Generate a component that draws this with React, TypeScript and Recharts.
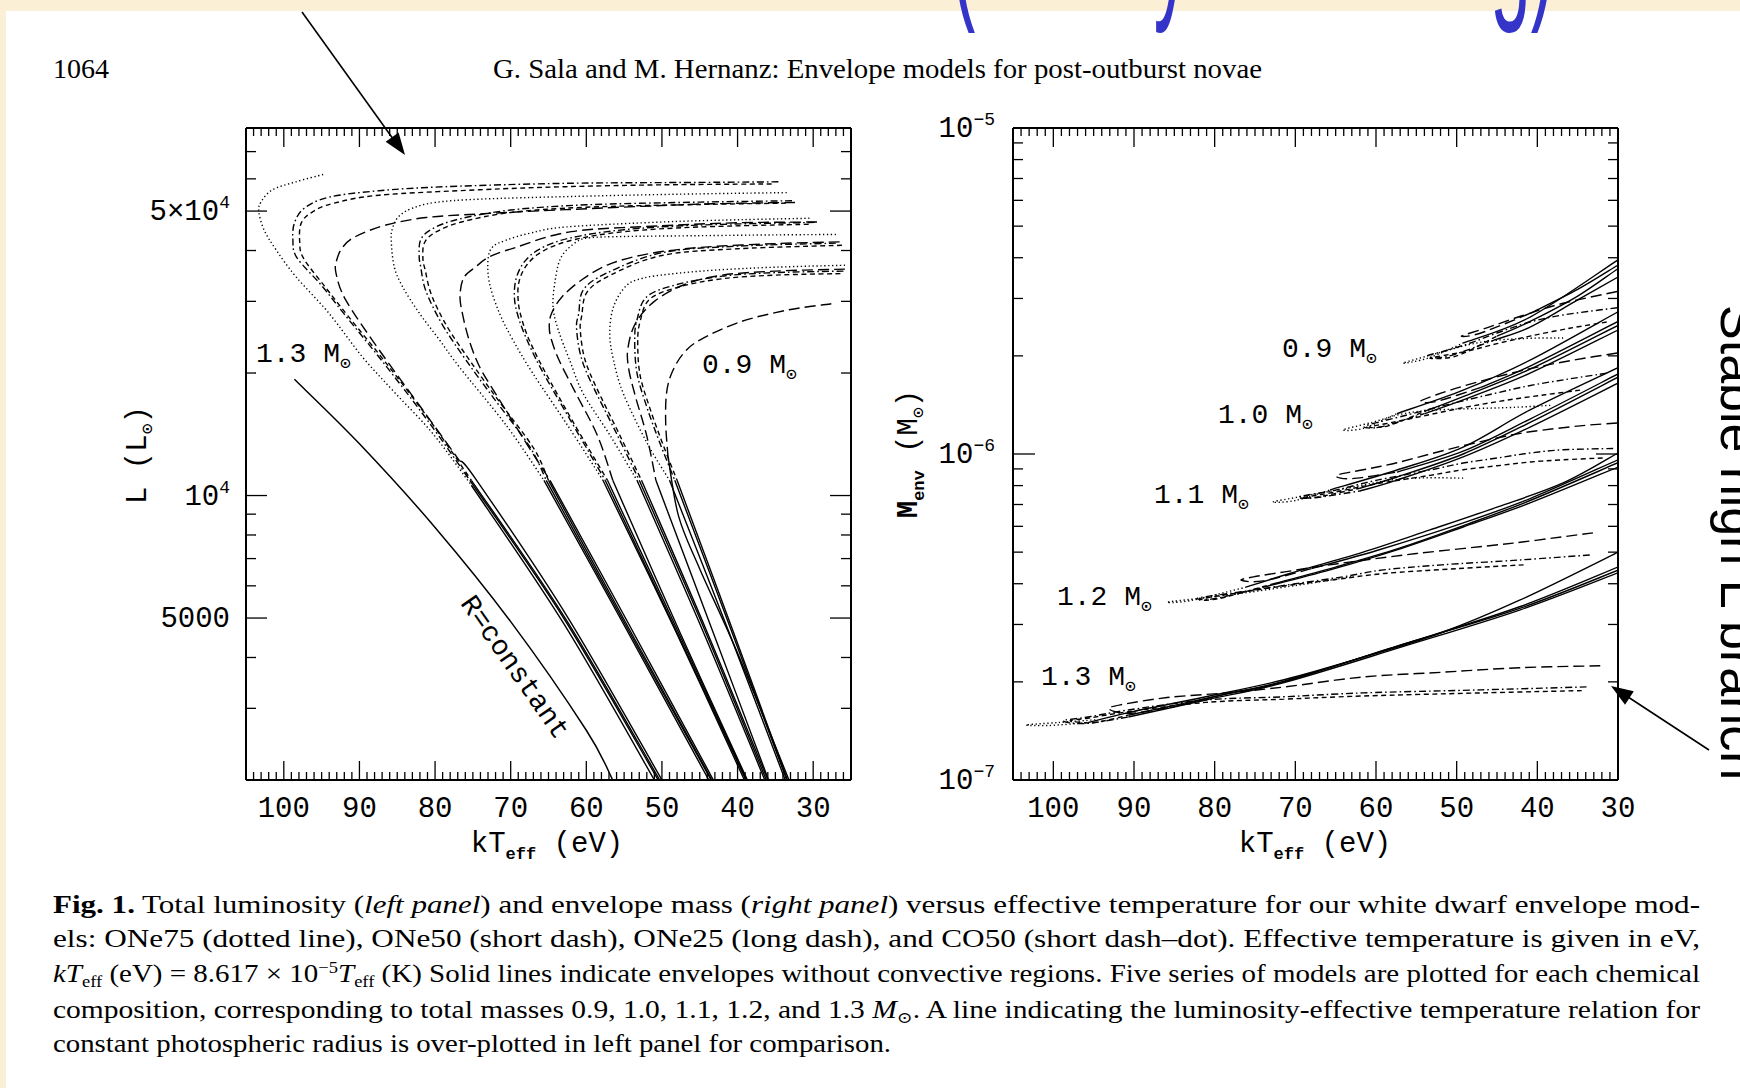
import React from 'react';
import { LineChart, Line, XAxis, YAxis, ReferenceLine } from 'recharts';

type Pt = [number, number];
type Comp = 'ONe75' | 'ONe50' | 'ONe25' | 'CO50';

// ---------- axis ticks ----------
const T_LABELS = [100, 90, 80, 70, 60, 50, 40, 30];
const T_TICKS_LUM = Array.from({ length: 81 }, (_, i) => 25 + i);
const T_TICKS_MENV = Array.from({ length: 76 }, (_, i) => 30 + i);
const LUM_TICKS = [3000, 4000, 5000, 6000, 7000, 8000, 9000, 10000, 20000, 30000, 40000, 50000, 60000, 70000];
const LUM_LABELED = [5000, 10000, 50000];
const MENV_TICKS = [1e-7, 2e-7, 3e-7, 4e-7, 5e-7, 6e-7, 7e-7, 8e-7, 9e-7, 1e-6, 2e-6, 3e-6, 4e-6, 5e-6, 6e-6, 7e-6, 8e-6, 9e-6, 1e-5];
const MENV_LABELED = [1e-7, 1e-6, 1e-5];

// ---------- left panel: luminosity (L_sun) vs kT_eff (eV) ----------
const lum13_ONe75: Pt[] = [[94.8, 61500], [98.4, 59000], [101.5, 56400], [103.0, 52700], [103.3, 49800], [102.6, 44900], [101.0, 40100], [98.4, 34500], [94.0, 28000], [89.6, 21900], [85.2, 17800], [80.3, 14200], [75.2, 10600], [63.0, 4850], [51.0, 2000]];
const lum13_CO50: Pt[] = [[34.6, 59000], [45, 58800], [62.7, 58500], [78.6, 57400], [87.4, 56100], [94.0, 54100], [97.3, 50800], [98.6, 46700], [98.8, 42500], [98.3, 38500], [95.0, 32800], [92.0, 27900], [87.0, 21400], [81.0, 15300], [75.4, 10900], [63.0, 5000], [50.5, 2000]];
const lum13_ONe50: Pt[] = [[35.5, 58300], [50, 58000], [62.7, 57400], [74.1, 56400], [87.4, 54700], [93.5, 52200], [96.2, 49800], [97.7, 46700], [97.9, 42000], [97.4, 38300], [94.5, 32500], [91.5, 27600], [86.6, 21300], [80.7, 15300], [75.2, 10900], [62.8, 5000], [50.3, 2000]];
const lum13_ONe25: Pt[] = [[32.4, 52500], [45, 52000], [62.7, 50400], [74.1, 49200], [81.2, 48200], [86.5, 46200], [90.5, 43300], [92.2, 40800], [93.0, 37900], [93.1, 35200], [91.8, 30200], [87.4, 22800], [81.6, 16200], [76.8, 12200], [74.5, 10900], [62.4, 5000], [50.0, 2000]];

const lum12_ONe75: Pt[] = [[33.5, 55500], [48, 55000], [62, 54300], [74, 53500], [80, 52500], [83, 50800], [84.8, 48500], [85.6, 45500], [85.8, 42500], [85.4, 36500], [84.3, 32600], [82.1, 28100], [79.4, 24100], [76.8, 20700], [70.5, 14800], [65.6, 10900], [55.0, 4800], [43.8, 2000]];
const lum12_CO50: Pt[] = [[32.8, 53000], [45, 52600], [60, 51800], [70, 50300], [76.8, 47800], [80.3, 45300], [81.9, 42500], [82.1, 38600], [81.9, 36500], [81.4, 32600], [80.3, 29100], [78.6, 25500], [75.9, 21500], [72.4, 17500], [67.5, 13200], [65.3, 10900], [54.8, 4800], [43.5, 2000]];
const lum12_ONe50: Pt[] = [[33.6, 52300], [45, 51900], [60, 51100], [70, 49600], [76.5, 47000], [79.8, 44500], [81.4, 41800], [81.6, 38000], [81.3, 35800], [80.7, 32000], [79.6, 28600], [77.9, 25100], [75.2, 21200], [71.8, 17300], [67.0, 13100], [65.0, 10900], [54.6, 4800], [43.4, 2000]];
const lum12_ONe25: Pt[] = [[29.5, 47000], [40, 46800], [50, 46000], [62, 44500], [69.7, 40500], [72.8, 38600], [74.6, 36500], [76.2, 34300], [76.7, 31000], [76.4, 28100], [75.5, 24100], [74.1, 20700], [72.0, 17800], [68.0, 13500], [64.8, 10900], [54.3, 4800], [43.2, 2000]];

const lum11_ONe75: Pt[] = [[30.5, 48000], [40, 47600], [50, 47000], [62.7, 45700], [67.5, 44100], [70.6, 42400], [72.4, 40800], [73.0, 37900], [72.8, 33200], [71.5, 28100], [69.7, 24100], [67.1, 20000], [62.5, 14900], [57.8, 10900], [48.2, 4650], [39.1, 2000]];
const lum11_CO50: Pt[] = [[29.8, 46900], [45, 46200], [55, 45000], [62, 43000], [66, 40500], [68.2, 37500], [69.3, 34000], [69.5, 30500], [69.0, 27500], [68.0, 24500], [66.0, 20500], [62.0, 15200], [57.5, 10900], [48.0, 4600], [38.9, 2000]];
const lum11_ONe50: Pt[] = [[30.6, 46400], [45, 45700], [55, 44500], [61.7, 42500], [65.6, 40000], [67.8, 37000], [68.9, 33500], [69.0, 30000], [68.5, 27000], [67.5, 24000], [65.5, 20200], [61.6, 15000], [57.2, 10900], [47.8, 4600], [38.8, 2000]];
const lum11_ONe25: Pt[] = [[26.5, 42000], [35, 41600], [45, 40700], [52, 39200], [57, 37000], [60.5, 34000], [63.2, 30800], [64.6, 28000], [64.9, 26000], [64.6, 24100], [63.6, 21500], [61.5, 18000], [58.5, 14000], [56.5, 10900], [47.6, 4600], [38.7, 2000]];

const lum10_ONe75: Pt[] = [[27.0, 43800], [35, 43700], [45, 43500], [55, 43300], [59.5, 43000], [61.3, 42000], [63.3, 38600], [64.1, 33900], [64.4, 29100], [63.7, 25500], [62.2, 21500], [60.4, 17800], [56.8, 14000], [53.3, 10900], [44.7, 4700], [36.4, 2000]];
const lum10_CO50: Pt[] = [[27.0, 41700], [40, 41000], [50, 39500], [57.3, 35200], [60.4, 32000], [61.0, 28000], [61.3, 26000], [60.8, 22300], [59.5, 19200], [56.0, 14200], [53.0, 10900], [44.4, 4700], [36.2, 2000]];
const lum10_ONe50: Pt[] = [[26.2, 41200], [40, 40400], [50, 38900], [56.8, 34800], [59.9, 31600], [60.6, 27700], [60.8, 25600], [60.3, 22000], [59.0, 19000], [55.6, 14100], [52.7, 10900], [44.2, 4700], [36.0, 2000]];
const lum10_ONe25: Pt[] = [[25.8, 36000], [35, 35600], [42, 34800], [47, 33000], [51, 30000], [53.5, 26500], [54.5, 23000], [54.4, 20500], [53.5, 17500], [52.0, 14000], [50.8, 10900], [43.4, 4700], [35.9, 2000]];

const lum09_ONe75: Pt[] = [[25.8, 36800], [35, 36400], [43, 35800], [49, 35000], [52.5, 34200], [54.7, 32800], [56.4, 29100], [56.9, 25000], [56.4, 21500], [55.1, 17800], [52.0, 13500], [49.0, 10900], [41.3, 4700], [33.7, 2000]];
const lum09_CO50: Pt[] = [[26.0, 35600], [35, 35300], [42, 34600], [48, 33000], [52.0, 30800], [53.3, 27000], [53.6, 24100], [53.3, 20000], [52.0, 16500], [50.3, 13500], [48.3, 10900], [40.9, 4700], [33.5, 2000]];
const lum09_ONe50: Pt[] = [[26.4, 35100], [35, 34800], [42, 34100], [47.6, 32600], [51.6, 30400], [52.9, 26700], [53.2, 23800], [52.9, 19800], [51.6, 16400], [49.9, 13400], [48.0, 10900], [40.7, 4700], [33.4, 2000]];
const lum09_ONe25: Pt[] = [[27.6, 29600], [33.2, 28600], [39.7, 26700], [45.0, 24100], [47.2, 22300], [48.7, 20000], [49.4, 17800], [49.5, 15000], [49.2, 12500], [47.8, 8900], [45.0, 6600], [40.0, 4100], [33.2, 2000]];

// constant photospheric radius
const rConstant: Pt[] = [[98.6, 19300], [90, 13400], [80, 8350], [70, 4900], [60, 2650], [56.5, 2000]];

// ---------- right panel: envelope mass (M_sun) vs kT_eff (eV) ----------
const menv13_ONe75: Pt[] = [[94.8, 1.53e-7], [99.5, 1.50e-7], [103.4, 1.475e-7], [100.5, 1.47e-7], [95.7, 1.50e-7], [90.7, 1.61e-7], [81.1, 1.80e-7], [71.4, 2.03e-7], [61.6, 2.38e-7], [51.9, 2.83e-7], [42.2, 3.56e-7], [30.0, 5.0e-7], [28.5, 5.25e-7]];
const menv13_CO50: Pt[] = [[33.9, 1.93e-7], [47, 1.89e-7], [61.6, 1.85e-7], [71.4, 1.80e-7], [81.1, 1.76e-7], [90.7, 1.64e-7], [95.7, 1.56e-7], [98.8, 1.52e-7], [96.0, 1.49e-7], [90.7, 1.56e-7], [81.1, 1.76e-7], [71.4, 1.99e-7], [56.8, 2.56e-7], [42.2, 3.32e-7], [30.0, 4.32e-7], [28.5, 4.48e-7]];
const menv13_ONe50: Pt[] = [[34.5, 1.88e-7], [47, 1.85e-7], [61.6, 1.81e-7], [71.4, 1.77e-7], [81.1, 1.73e-7], [90.7, 1.62e-7], [95.5, 1.55e-7], [97.9, 1.52e-7], [95.0, 1.50e-7], [90.7, 1.58e-7], [81.1, 1.78e-7], [71.4, 2.01e-7], [56.8, 2.6e-7], [42.2, 3.4e-7], [30.0, 4.5e-7], [28.5, 4.65e-7]];
const menv13_ONe25: Pt[] = [[32.2, 2.24e-7], [42.2, 2.21e-7], [51.9, 2.14e-7], [61.6, 2.07e-7], [71.3, 1.93e-7], [78.6, 1.85e-7], [85.9, 1.79e-7], [91.7, 1.70e-7], [93.1, 1.65e-7], [90.5, 1.60e-7], [85.0, 1.68e-7], [78.0, 1.85e-7], [71.4, 2.0e-7], [56.8, 2.6e-7], [42.2, 3.36e-7], [30.0, 4.4e-7], [28.5, 4.55e-7]];

const menv12_ONe75: Pt[] = [[63.1, 4.2e-7], [70, 3.95e-7], [78, 3.7e-7], [85.7, 3.52e-7], [83, 3.55e-7], [76.2, 3.9e-7], [70.7, 4.3e-7], [61.6, 5.0e-7], [53.3, 5.85e-7], [45, 6.87e-7], [36.8, 8.15e-7], [30, 1.007e-6], [28.5, 1.06e-6]];
const menv12_CO50: Pt[] = [[33.5, 4.9e-7], [42.2, 4.73e-7], [51.9, 4.57e-7], [59.1, 4.41e-7], [64.1, 4.2e-7], [70, 4.0e-7], [76, 3.8e-7], [82, 3.62e-7], [80, 3.6e-7], [74, 3.9e-7], [65.7, 4.41e-7], [57.4, 5.08e-7], [49.2, 5.97e-7], [40.9, 7.08e-7], [30, 9.12e-7], [28.5, 9.45e-7]];
const menv12_ONe50: Pt[] = [[41.7, 4.57e-7], [50, 4.45e-7], [59, 4.3e-7], [65, 4.12e-7], [72, 3.92e-7], [81.5, 3.6e-7], [79.5, 3.6e-7], [73, 3.98e-7], [65, 4.5e-7], [57, 5.15e-7], [49, 6.05e-7], [40.9, 7.2e-7], [30, 9.4e-7], [28.5, 9.75e-7]];
const menv12_ONe25: Pt[] = [[33.1, 5.73e-7], [43, 5.33e-7], [55, 4.95e-7], [65, 4.6e-7], [71.3, 4.35e-7], [75.2, 4.2e-7], [76.7, 4.1e-7], [74, 4.08e-7], [68, 4.45e-7], [60, 5.05e-7], [50, 6.05e-7], [40.9, 7.3e-7], [30, 9.6e-7], [28.5, 9.95e-7]];

const menv11_ONe75: Pt[] = [[49.2, 8.43e-7], [54, 8.45e-7], [58.5, 8.3e-7], [63, 7.9e-7], [68, 7.5e-7], [72.8, 7.13e-7], [70, 7.2e-7], [65.7, 7.76e-7], [57.4, 8.93e-7], [49.2, 1.05e-6], [40.9, 1.365e-6], [30, 1.84e-6], [28.5, 1.92e-6]];
const menv11_CO50: Pt[] = [[30.6, 1.04e-6], [36.8, 1.03e-6], [40.9, 1.007e-6], [45, 9.72e-7], [49.2, 9.38e-7], [53.3, 8.93e-7], [60, 8.3e-7], [65, 7.75e-7], [69.5, 7.4e-7], [67.8, 7.33e-7], [62, 7.7e-7], [57.4, 8.32e-7], [49.2, 9.8e-7], [40.9, 1.21e-6], [30, 1.65e-6], [28.5, 1.72e-6]];
const menv11_ONe50: Pt[] = [[31.9, 9.72e-7], [36.8, 9.6e-7], [40.9, 9.45e-7], [45, 9.2e-7], [49.2, 8.95e-7], [53.3, 8.6e-7], [60, 8.1e-7], [65, 7.65e-7], [69, 7.35e-7], [67, 7.4e-7], [62, 7.85e-7], [57.4, 8.5e-7], [49.2, 1.0e-6], [40.9, 1.25e-6], [30, 1.72e-6], [28.5, 1.8e-6]];
const menv11_ONe25: Pt[] = [[30.1, 1.245e-6], [34.7, 1.22e-6], [40.9, 1.17e-6], [45, 1.12e-6], [49.2, 1.06e-6], [53.3, 1.0e-6], [57.4, 9.4e-7], [61, 9.0e-7], [64.9, 8.6e-7], [63, 8.4e-7], [57.4, 8.8e-7], [49.2, 1.02e-6], [40.9, 1.28e-6], [30, 1.76e-6], [28.5, 1.84e-6]];

const menv10_ONe75: Pt[] = [[38.4, 1.41e-6], [43, 1.39e-6], [47.1, 1.38e-6], [52.4, 1.365e-6], [56.6, 1.33e-6], [60.5, 1.25e-6], [64.1, 1.186e-6], [61.5, 1.2e-6], [57.4, 1.33e-6], [49.2, 1.57e-6], [40.9, 1.94e-6], [30, 2.73e-6], [28.5, 2.86e-6]];
const menv10_CO50: Pt[] = [[31.4, 1.77e-6], [36, 1.7e-6], [41, 1.62e-6], [46, 1.52e-6], [51, 1.42e-6], [56, 1.32e-6], [61.3, 1.22e-6], [59.5, 1.21e-6], [54, 1.33e-6], [49.2, 1.466e-6], [40.9, 1.77e-6], [30, 2.4e-6], [28.5, 2.5e-6]];
const menv10_ONe50: Pt[] = [[34.7, 1.57e-6], [39, 1.52e-6], [44, 1.46e-6], [49, 1.39e-6], [54, 1.31e-6], [58, 1.25e-6], [60.8, 1.21e-6], [58.5, 1.22e-6], [54, 1.35e-6], [49.2, 1.5e-6], [40.9, 1.82e-6], [30, 2.48e-6], [28.5, 2.58e-6]];
const menv10_ONe25: Pt[] = [[30.1, 2.04e-6], [34, 1.97e-6], [39, 1.87e-6], [44, 1.75e-6], [49, 1.62e-6], [52.5, 1.52e-6], [54.5, 1.45e-6], [52.5, 1.45e-6], [47, 1.6e-6], [40.9, 1.86e-6], [30, 2.55e-6], [28.5, 2.66e-6]];

const menv09_ONe75: Pt[] = [[36.8, 2.27e-6], [42, 2.26e-6], [47.1, 2.2e-6], [52, 2.05e-6], [56.65, 1.9e-6], [53.5, 1.97e-6], [49.2, 2.19e-6], [40.9, 2.63e-6], [30, 3.94e-6], [28.5, 4.15e-6]];
const menv09_CO50: Pt[] = [[30.1, 2.81e-6], [36.8, 2.67e-6], [40.9, 2.54e-6], [45, 2.35e-6], [48.3, 2.19e-6], [51.5, 2.07e-6], [53.6, 2.0e-6], [51.2, 1.99e-6], [45, 2.25e-6], [40.9, 2.45e-6], [35, 2.97e-6], [30, 3.49e-6], [28.5, 3.65e-6]];
const menv09_ONe50: Pt[] = [[31.4, 2.54e-6], [36, 2.43e-6], [40.9, 2.3e-6], [45, 2.18e-6], [49, 2.06e-6], [53.3, 1.97e-6], [50, 2.0e-6], [45, 2.3e-6], [40.9, 2.55e-6], [35, 3.05e-6], [30, 3.7e-6], [28.5, 3.88e-6]];
const menv09_ONe25: Pt[] = [[30.1, 3.15e-6], [36.8, 2.9e-6], [42, 2.65e-6], [46, 2.45e-6], [49.4, 2.3e-6], [47, 2.35e-6], [40.9, 2.7e-6], [35, 3.2e-6], [30, 3.8e-6], [28.5, 4.0e-6]];

const LUM_CURVES: [Comp, Pt[]][] = [
  ['ONe75', lum13_ONe75], ['CO50', lum13_CO50], ['ONe50', lum13_ONe50], ['ONe25', lum13_ONe25],
  ['ONe75', lum12_ONe75], ['CO50', lum12_CO50], ['ONe50', lum12_ONe50], ['ONe25', lum12_ONe25],
  ['ONe75', lum11_ONe75], ['CO50', lum11_CO50], ['ONe50', lum11_ONe50], ['ONe25', lum11_ONe25],
  ['ONe75', lum10_ONe75], ['CO50', lum10_CO50], ['ONe50', lum10_ONe50], ['ONe25', lum10_ONe25],
  ['ONe75', lum09_ONe75], ['CO50', lum09_CO50], ['ONe50', lum09_ONe50], ['ONe25', lum09_ONe25],
];
const MENV_CURVES: [Comp, Pt[]][] = [
  ['ONe75', menv13_ONe75], ['CO50', menv13_CO50], ['ONe50', menv13_ONe50], ['ONe25', menv13_ONe25],
  ['ONe75', menv12_ONe75], ['CO50', menv12_CO50], ['ONe50', menv12_ONe50], ['ONe25', menv12_ONe25],
  ['ONe75', menv11_ONe75], ['CO50', menv11_CO50], ['ONe50', menv11_ONe50], ['ONe25', menv11_ONe25],
  ['ONe75', menv10_ONe75], ['CO50', menv10_CO50], ['ONe50', menv10_ONe50], ['ONe25', menv10_ONe25],
  ['ONe75', menv09_ONe75], ['CO50', menv09_CO50], ['ONe50', menv09_ONe50], ['ONe25', menv09_ONe25],
];

// ---------- styling / layout ----------
const DASH: Record<Comp, string> = { ONe75: '1.3 2.6', ONe50: '5 3.5', ONe25: '11 5', CO50: '7 3 1.6 3' };
const INK = '#000';
const FONT_PLOT = '"Liberation Mono", "DejaVu Sans Mono", monospace';
const FONT_PAGE = '"Liberation Serif", "DejaVu Serif", serif';
const TOP = 128;
const BOTTOM = 780;
const L_LEFT = 246;
const L_RIGHT = 851;
const R_LEFT = 1013;
const R_RIGHT = 1618;

// Catmull-Rom curve factory so the model tracks bend smoothly through their points
const catmullRom = (context: any) => {
  let pts: number[][] = [];
  return {
    areaStart() {},
    areaEnd() {},
    lineStart() { pts = []; },
    point(x: number, y: number) { pts.push([+x, +y]); },
    lineEnd() {
      if (!pts.length) return;
      context.moveTo(pts[0][0], pts[0][1]);
      for (let i = 0; i < pts.length - 1; i++) {
        const p0 = pts[i - 1] || pts[i];
        const p1 = pts[i];
        const p2 = pts[i + 1];
        const p3 = pts[i + 2] || p2;
        context.bezierCurveTo(
          p1[0] + (p2[0] - p0[0]) / 6, p1[1] + (p2[1] - p0[1]) / 6,
          p2[0] - (p3[0] - p1[0]) / 6, p2[1] - (p3[1] - p1[1]) / 6,
          p2[0], p2[1]);
      }
    },
  };
};

const rows = (a: Pt[]) => a.map(([t, v]) => ({ t, v }));

// split a model track into its convective (patterned) part and its radiative (solid) part
function splitTrack(pts: Pt[], panel: 'lum' | 'menv') {
  let tip = 0;
  pts.forEach((p, i) => { if (p[0] > pts[tip][0]) tip = i; });
  let k = panel === 'lum'
    ? pts.findIndex((p, i) => i > tip && p[1] <= 13000)
    : Math.min(tip + 2, pts.length - 1);
  if (k < 0) k = pts.length - 1;
  return { patterned: rows(pts.slice(0, k + 1)), solid: rows(pts.slice(k)) };
}

function trackLines(curves: [Comp, Pt[]][], panel: 'lum' | 'menv') {
  return curves.flatMap(([comp, pts], i) => {
    const { patterned, solid } = splitTrack(pts, panel);
    return [
      <Line key={`${panel}-${i}-p`} data={patterned} dataKey="v" type={catmullRom as any} stroke={INK}
        strokeWidth={1.4} strokeDasharray={DASH[comp]} dot={false} activeDot={false} isAnimationActive={false} />,
      <Line key={`${panel}-${i}-s`} data={solid} dataKey="v" type={catmullRom as any} stroke={INK}
        strokeWidth={1.4} dot={false} activeDot={false} isAnimationActive={false} />,
    ];
  });
}

// ---------- ticks (inward, mirrored on the opposite frame side) ----------
const makeTTick = () => (props: any) => {
  const { x, payload } = props;
  const v = payload.value as number;
  const major = v % 10 === 0;
  const len = major ? 19 : 8;
  return (
    <g>
      <line x1={x} x2={x} y1={BOTTOM} y2={BOTTOM - len} stroke={INK} strokeWidth={1.3} />
      <line x1={x} x2={x} y1={TOP} y2={TOP + len} stroke={INK} strokeWidth={1.3} />
      {T_LABELS.includes(v) && (
        <text x={x} y={BOTTOM + 37} textAnchor="middle" fontFamily={FONT_PLOT} fontSize={29} fill={INK}>{v}</text>
      )}
    </g>
  );
};

const LumTick = (props: any) => {
  const { y, payload } = props;
  const v = payload.value as number;
  const major = LUM_LABELED.includes(v);
  const len = major ? 21 : 10;
  let label: React.ReactNode = null;
  if (v === 50000) label = <>5×10<tspan fontSize={18} dy={-12}>4</tspan></>;
  else if (v === 10000) label = <>10<tspan fontSize={18} dy={-12}>4</tspan></>;
  else if (v === 5000) label = <>5000</>;
  return (
    <g>
      <line x1={L_LEFT} x2={L_LEFT + len} y1={y} y2={y} stroke={INK} strokeWidth={1.3} />
      <line x1={L_RIGHT} x2={L_RIGHT - len} y1={y} y2={y} stroke={INK} strokeWidth={1.3} />
      {label && (
        <text x={230} y={y + 9} textAnchor="end" fontFamily={FONT_PLOT} fontSize={29} fill={INK}>{label}</text>
      )}
    </g>
  );
};

const MenvTick = (props: any) => {
  const { y, payload } = props;
  const v = payload.value as number;
  const dec = MENV_LABELED.find((d) => Math.abs(d - v) / d < 1e-6);
  const len = dec ? 22 : 10;
  return (
    <g>
      <line x1={R_LEFT} x2={R_LEFT + len} y1={y} y2={y} stroke={INK} strokeWidth={1.3} />
      <line x1={R_RIGHT} x2={R_RIGHT - len} y1={y} y2={y} stroke={INK} strokeWidth={1.3} />
      {dec && (
        <text x={995} y={y + 9} textAnchor="end" fontFamily={FONT_PLOT} fontSize={29} fill={INK}>
          10<tspan fontSize={18} dy={-12}>{`−${Math.round(-Math.log10(dec))}`}</tspan>
        </text>
      )}
    </g>
  );
};

const frame = (x0: number, x1: number, y0: number, y1: number) => [
  <ReferenceLine key="f1" x={x0} stroke={INK} strokeWidth={2} />,
  <ReferenceLine key="f2" x={x1} stroke={INK} strokeWidth={2} />,
  <ReferenceLine key="f3" y={y0} stroke={INK} strokeWidth={2} />,
  <ReferenceLine key="f4" y={y1} stroke={INK} strokeWidth={2} />,
];

function LuminosityPanel() {
  return (
    <LineChart width={900} height={880} margin={{ top: TOP, right: 900 - L_RIGHT, bottom: 880 - BOTTOM - 30, left: L_LEFT - 60 }}>
      <XAxis type="number" dataKey="t" domain={[25, 105]} reversed allowDataOverflow ticks={T_TICKS_LUM}
        interval={0} tick={makeTTick()} tickLine={false} axisLine={false} tickSize={0} tickMargin={0} height={30} />
      <YAxis type="number" scale="log" domain={[2000, 80000]} allowDataOverflow ticks={LUM_TICKS}
        interval={0} tick={LumTick} tickLine={false} axisLine={false} tickSize={0} tickMargin={0} width={60} />
      {frame(25, 105, 2000, 80000)}
      {trackLines(LUM_CURVES, 'lum')}
      <Line data={rows(rConstant)} dataKey="v" type={catmullRom as any} stroke={INK} strokeWidth={1.5}
        dot={false} activeDot={false} isAnimationActive={false} />
    </LineChart>
  );
}

function EnvelopePanel() {
  return (
    <LineChart width={1740} height={880} margin={{ top: TOP, right: 1740 - R_RIGHT, bottom: 880 - BOTTOM - 30, left: R_LEFT - 60 }}>
      <XAxis type="number" dataKey="t" domain={[30, 105]} reversed allowDataOverflow ticks={T_TICKS_MENV}
        interval={0} tick={makeTTick()} tickLine={false} axisLine={false} tickSize={0} tickMargin={0} height={30} />
      <YAxis type="number" scale="log" domain={[1e-7, 1e-5]} allowDataOverflow ticks={MENV_TICKS}
        interval={0} tick={MenvTick} tickLine={false} axisLine={false} tickSize={0} tickMargin={0} width={60} />
      {frame(30, 105, 1e-7, 1e-5)}
      {trackLines(MENV_CURVES, 'menv')}
    </LineChart>
  );
}

function arrowHead(x1: number, y1: number, x2: number, y2: number, len = 22, half = 8) {
  const d = Math.hypot(x2 - x1, y2 - y1);
  const ux = (x2 - x1) / d;
  const uy = (y2 - y1) / d;
  const bx = x2 - ux * len;
  const by = y2 - uy * len;
  return `${x2},${y2} ${bx - uy * half},${by + ux * half} ${bx + uy * half},${by - ux * half}`;
}

const MassLabel = ({ x, y, m }: { x: number; y: number; m: string }) => (
  <text x={x} y={y} fontFamily={FONT_PLOT} fontSize={28} fill={INK}>
    {m} M<tspan fontSize={18} dy={7}>⊙</tspan>
  </text>
);

function Annotations() {
  return (
    <svg width={1740} height={1088} style={{ position: 'absolute', left: 0, top: 0, pointerEvents: 'none' }}>
      {/* slide annotation, mostly above the page */}
      <text x={951} y={-2} fontFamily='"Liberation Sans", Arial, sans-serif' fontSize={170} fill="#3434c8"
        textLength={604} lengthAdjust="spacingAndGlyphs">(steady H-burning)</text>

      {/* running head */}
      <text x={53} y={78} fontFamily={FONT_PAGE} fontSize={27} fill={INK} textLength={56} lengthAdjust="spacingAndGlyphs">1064</text>
      <text x={493} y={78} fontFamily={FONT_PAGE} fontSize={27} fill={INK} textLength={769} lengthAdjust="spacingAndGlyphs">
        G. Sala and M. Hernanz: Envelope models for post-outburst novae
      </text>

      {/* axis titles */}
      <text x={547} y={852} textAnchor="middle" fontFamily={FONT_PLOT} fontSize={29} fill={INK}>
        kT<tspan fontSize={17} fontWeight="bold" dy={7}>eff</tspan><tspan dy={-7}> (eV)</tspan>
      </text>
      <text x={1315} y={852} textAnchor="middle" fontFamily={FONT_PLOT} fontSize={29} fill={INK}>
        kT<tspan fontSize={17} fontWeight="bold" dy={7}>eff</tspan><tspan dy={-7}> (eV)</tspan>
      </text>
      <text transform="translate(146,455) rotate(-90)" textAnchor="middle" fontFamily={FONT_PLOT} fontSize={29} fill={INK}>
        L (L<tspan fontSize={18} dy={7}>⊙</tspan><tspan dy={-7}>)</tspan>
      </text>
      <text transform="translate(917,454) rotate(-90)" textAnchor="middle" fontFamily={FONT_PLOT} fontSize={29} fill={INK}>
        <tspan fontWeight="bold">M</tspan><tspan fontSize={17} fontWeight="bold" dy={7}>env</tspan>
        <tspan dy={-7}>  (M</tspan><tspan fontSize={18} dy={7}>⊙</tspan><tspan dy={-7}>)</tspan>
      </text>

      {/* in-plot labels */}
      <MassLabel x={256} y={362} m="1.3" />
      <MassLabel x={702} y={373} m="0.9" />
      <text transform="translate(508,672) rotate(55)" textAnchor="middle" fontFamily={FONT_PLOT} fontSize={28} fill={INK}>R=constant</text>
      <MassLabel x={1282} y={357} m="0.9" />
      <MassLabel x={1218} y={423} m="1.0" />
      <MassLabel x={1154} y={503} m="1.1" />
      <MassLabel x={1057} y={605} m="1.2" />
      <MassLabel x={1041} y={685} m="1.3" />

      {/* slide arrows */}
      <line x1={302} y1={12} x2={396} y2={143} stroke={INK} strokeWidth={1.6} />
      <polygon points={arrowHead(302, 12, 405, 155)} fill={INK} />
      <line x1={1709} y1={750} x2={1625} y2={695} stroke={INK} strokeWidth={1.6} />
      <polygon points={arrowHead(1709, 750, 1611, 686)} fill={INK} />
      <text transform="translate(1721,305) rotate(90)" fontFamily='"Liberation Sans", Arial, sans-serif' fontSize={52} fill={INK}>
        Stable high L branch
      </text>

      {/* caption */}
      <g fontFamily={FONT_PAGE} fontSize={25} fill={INK}>
        <text x={53} y={913} textLength={1647} lengthAdjust="spacingAndGlyphs">
          <tspan fontWeight="bold">Fig. 1.</tspan> Total luminosity (<tspan fontStyle="italic">left panel</tspan>) and envelope mass (<tspan fontStyle="italic">right panel</tspan>) versus effective temperature for our white dwarf envelope mod-
        </text>
        <text x={53} y={947} textLength={1647} lengthAdjust="spacingAndGlyphs">
          els: ONe75 (dotted line), ONe50 (short dash), ONe25 (long dash), and CO50 (short dash–dot). Effective temperature is given in eV,
        </text>
        <text x={53} y={982} textLength={1647} lengthAdjust="spacingAndGlyphs">
          <tspan fontStyle="italic">kT</tspan><tspan fontSize={16} dy={5}>eff</tspan><tspan dy={-5}> (eV) = 8.617 × 10</tspan><tspan fontSize={16} dy={-9}>−5</tspan><tspan fontStyle="italic" dy={9}>T</tspan><tspan fontSize={16} dy={5}>eff</tspan><tspan dy={-5}> (K) Solid lines indicate envelopes without convective regions. Five series of models are plotted for each chemical</tspan>
        </text>
        <text x={53} y={1018} textLength={1647} lengthAdjust="spacingAndGlyphs">
          composition, corresponding to total masses 0.9, 1.0, 1.1, 1.2, and 1.3 <tspan fontStyle="italic">M</tspan><tspan fontSize={16} dy={5}>⊙</tspan><tspan dy={-5}>. A line indicating the luminosity-effective temperature relation for</tspan>
        </text>
        <text x={53} y={1052} textLength={838} lengthAdjust="spacingAndGlyphs">
          constant photospheric radius is over-plotted in left panel for comparison.
        </text>
      </g>
    </svg>
  );
}

export default function App() {
  return (
    <div style={{ position: 'fixed', left: 0, top: 0, width: 1740, height: 1088, overflow: 'hidden', background: '#fbefd5' }}>
      <div style={{ position: 'absolute', left: 6, top: 11, width: 1734, height: 1077, background: '#ffffff' }} />
      <div style={{ position: 'absolute', left: 0, top: 0 }}>
        <LuminosityPanel />
      </div>
      <div style={{ position: 'absolute', left: 0, top: 0 }}>
        <EnvelopePanel />
      </div>
      <Annotations />
    </div>
  );
}
